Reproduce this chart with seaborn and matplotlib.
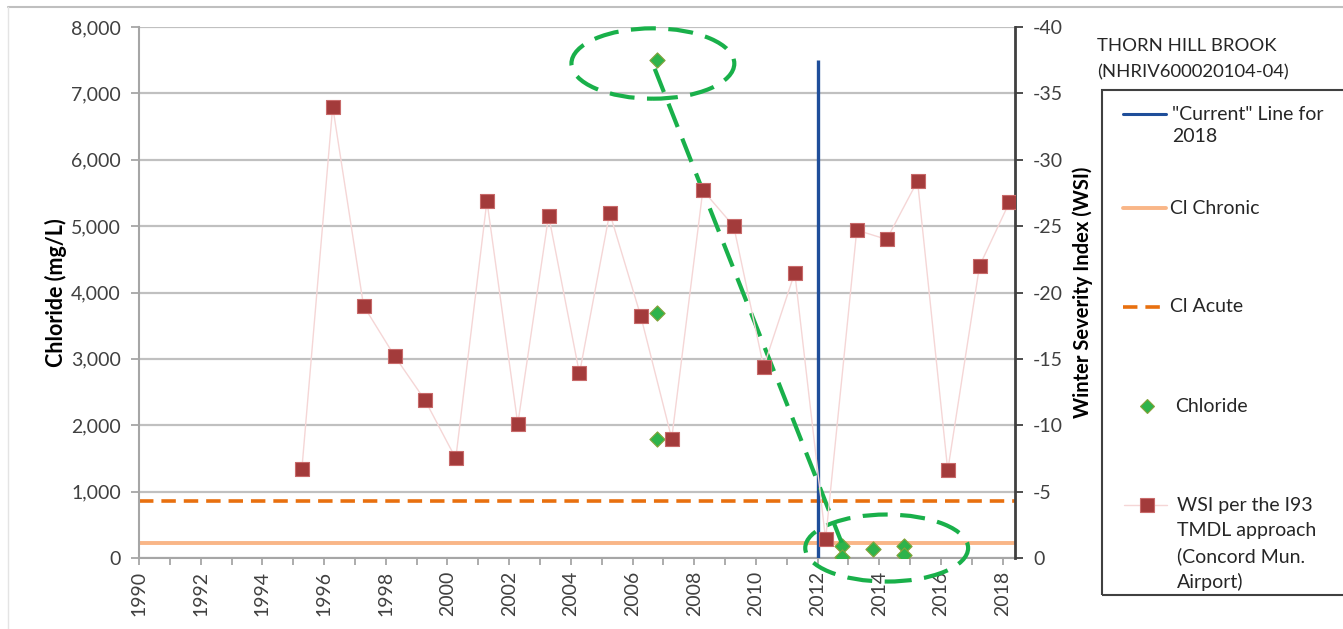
import pandas as pd
import seaborn as sns
import matplotlib.pyplot as plt
from matplotlib.patches import Ellipse, Rectangle
from matplotlib.lines import Line2D
from matplotlib.ticker import FuncFormatter, MultipleLocator

# WSI per winter (Concord Mun. Airport), plotted on the right axis
wsi_year = [1995.28, 1996.28, 1997.28, 1998.29, 1999.27, 2000.27, 2001.28, 2002.28,
            2003.28, 2004.28, 2005.26, 2006.27, 2007.27, 2008.28, 2009.28, 2010.25,
            2011.26, 2012.26, 2013.27, 2014.24, 2015.24, 2016.22, 2017.25, 2018.22]
wsi_value = [-6.7, -34.0, -19.0, -15.2, -11.9, -7.5, -26.9, -10.1,
             -25.8, -13.9, -26.0, -18.2, -9.0, -27.7, -25.0, -14.4,
             -21.5, -1.4, -24.7, -24.0, -28.4, -6.6, -22.0, -26.8]

# chloride samples (mg/L)
cl_year = [2006.8, 2006.8, 2006.8, 2012.8, 2012.8, 2013.8, 2014.8, 2014.8]
cl_value = [7500, 3690, 1800, 185, 20, 140, 185, 50]

# criteria and the "current" line
cl_chronic = 230
cl_acute = 860
current_year = 2012.0
current_top = 7500

x_ticks = list(range(1990, 2019, 2))
y_ticks = list(range(0, 8001, 1000))
wsi_ticks = list(range(0, -41, -5))

sns.set_theme(style="white")
plt.rcParams['font.family'] = ['Lato', 'DejaVu Sans']
plt.rcParams['axes.unicode_minus'] = False

W, H = 1343, 629
fig = plt.figure(figsize=(W / 100, H / 100), dpi=100)


def fx(x):
    return x / W


def fy(y):
    return 1 - y / H


ax = fig.add_axes([fx(139), fy(558), fx(1015) - fx(139), fy(27) - fy(558)])
ax2 = ax.twinx()

# criteria lines + current line + chloride samples (left axis)
ax.axhline(cl_chronic, color='#f9b687', lw=2.8, zorder=2)
ax.axhline(cl_acute, color='#e8700f', lw=2.6, ls=(0, (4, 2.2)), zorder=2)
ax.vlines(current_year, 0, current_top, color='#1f4e9a', lw=2.4, zorder=3)
sns.scatterplot(x=cl_year, y=cl_value, ax=ax, marker='D', s=60, color='#2eb34b',
                edgecolor='#86a23a', linewidth=0.8, zorder=5, legend=False)

# WSI (right axis)
sns.lineplot(x=wsi_year, y=wsi_value, ax=ax2, color='#f5d6d6', lw=1.0, zorder=2)
sns.scatterplot(x=wsi_year, y=wsi_value, ax=ax2, marker='s', s=110, color='#a33b3b',
                edgecolor='#c86a6a', linewidth=0.8, zorder=3, legend=False)

ax.set_xlim(1990, 2018.4)
ax.set_ylim(0, 8000)
ax2.set_ylim(0, -40)

ax.set_xticks(x_ticks)
ax.xaxis.set_minor_locator(MultipleLocator(1))
ax.set_xticklabels([str(t) for t in x_ticks], rotation=90)
ax.set_yticks(y_ticks)
ax.yaxis.set_major_formatter(FuncFormatter(lambda v, p: f'{v:,.0f}'))
ax2.set_yticks(wsi_ticks)
ax2.set_yticklabels([str(t) for t in wsi_ticks])

ax.yaxis.grid(True, color='#c0c0c0', lw=1.6)
ax.xaxis.grid(False)
ax.set_axisbelow(True)

for s in ['top', 'right']:
    ax.spines[s].set_visible(False)
for s in ['left', 'bottom']:
    ax.spines[s].set_color('#a6a6a6')
    ax.spines[s].set_linewidth(1.5)
for s in ['top', 'left', 'bottom']:
    ax2.spines[s].set_visible(False)
ax2.spines['right'].set_color('#404040')
ax2.spines['right'].set_linewidth(2)

ax.tick_params(axis='y', left=True, direction='out', length=6, width=1.3, color='#a6a6a6',
               labelsize=14, labelcolor='#404040', pad=7)
ax.tick_params(axis='x', which='both', bottom=True, direction='out', length=5, width=1.3,
               color='#a6a6a6', labelsize=14, labelcolor='#404040', pad=4)
ax2.tick_params(axis='y', right=True, direction='out', length=6, width=1.3, color='#404040',
                labelsize=14, labelcolor='#404040', pad=7)

ax.set_ylabel('Chloride (mg/L)', fontsize=15.5, fontweight='bold', color='black', labelpad=3)
ax2.set_ylabel('Winter Severity Index (WSI)', fontsize=14.5, fontweight='bold', color='black',
               labelpad=7)

# green dashed callouts
green = '#19b04a'
ax.add_patch(Ellipse((2006.66, 7450), 5.28, 1060, fill=False, ec=green, lw=3,
                     ls=(0, (6, 3)), clip_on=False, zorder=6))
ax.add_patch(Ellipse((2014.24, 150), 5.28, 1010, fill=False, ec=green, lw=3,
                     ls=(0, (6, 3)), clip_on=False, zorder=6))
ax.add_line(Line2D([2006.72, 2012.78], [7370, 230], color=green, lw=3,
                   ls=(0, (6, 3)), clip_on=False, zorder=6))

# outer chart frame
fig.add_artist(Line2D([fx(8), 1], [fy(7), fy(7)], transform=fig.transFigure, color='#bfbfbf', lw=1.5))
fig.add_artist(Line2D([fx(8), fx(8)], [fy(7), 0], transform=fig.transFigure, color='#e4e4e4', lw=1))

# title and legend at the right
fig.text(fx(1097), fy(46), 'THORN HILL BROOK', fontsize=13.3, color='#262626', va='center')
fig.text(fx(1097), fy(72), '(NHRIV600020104-04)', fontsize=13.3, color='#262626', va='center')
fig.add_artist(Rectangle((fx(1102), fy(595)), fx(320), fy(90) - fy(595), transform=fig.transFigure,
                         fill=False, ec='#404040', lw=1.5))

tr = fig.transFigure
kw = dict(fontsize=14, color='#262626', va='center')
fig.add_artist(Line2D([fx(1123), fx(1166)], [fy(114), fy(114)], transform=tr, color='#1f4e9a', lw=2.2))
fig.text(fx(1172), fy(114), '"Current" Line for', **kw)
fig.text(fx(1172), fy(137), '2018', **kw)
fig.add_artist(Line2D([fx(1123), fx(1166)], [fy(208), fy(208)], transform=tr, color='#f9b687', lw=2.8))
fig.text(fx(1170), fy(208), 'Cl Chronic', **kw)
fig.add_artist(Line2D([fx(1123), fx(1166)], [fy(307), fy(307)], transform=tr, color='#e8700f', lw=2.6,
                      ls=(0, (4, 2.2))))
fig.text(fx(1170), fy(307), 'Cl Acute', **kw)
fig.add_artist(Line2D([fx(1147)], [fy(406)], transform=tr, marker='D', ms=7, color='#2eb34b',
                      mec='#86a23a', mew=0.8, ls='none'))
fig.text(fx(1175), fy(406), 'Chloride', **kw)
fig.add_artist(Line2D([fx(1124), fx(1167)], [fy(505), fy(505)], transform=tr, color='#f5d6d6', lw=1.0))
fig.add_artist(Line2D([fx(1147)], [fy(505)], transform=tr, marker='s', ms=10, color='#a33b3b',
                      mec='#c86a6a', mew=0.8, ls='none'))
for i, line in enumerate(['WSI per the I93', 'TMDL approach', '(Concord Mun.', 'Airport)']):
    fig.text(fx(1177), fy(505 + 25.5 * i), line, **kw)

fig.savefig('out.png', dpi=100, facecolor='white')
